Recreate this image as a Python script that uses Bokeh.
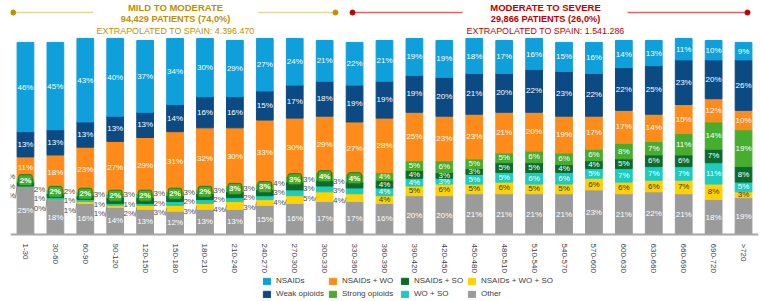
from bokeh.plotting import figure
from bokeh.models import ColumnDataSource, FactorRange, Range1d, Legend, LegendItem
from bokeh.embed import file_html
from bokeh.resources import INLINE
from bokeh.core.properties import value

# ---------------- data ----------------
categories = ["1-30", "30-60", "60-90", "90-120", "120-150", "150-180", "180-210",
              "210-240", "240-270", "270-300", "300-330", "330-360", "360-390",
              "390-420", "420-450", "450-480", "480-510", "510-540", "540-570",
              "570-600", "600-630", "630-660", "660-690", "690-720", ">720"]

nsaids         = [46, 45, 43, 40, 37, 34, 30, 29, 27, 24, 21, 22, 21, 19, 19, 18, 17, 16, 15, 16, 14, 13, 11, 10, 9]
weak_opioids   = [13, 13, 13, 13, 13, 14, 16, 16, 15, 17, 18, 19, 19, 19, 20, 21, 20, 22, 23, 22, 22, 25, 23, 20, 26]
nsaids_wo      = [11, 18, 23, 27, 29, 31, 32, 30, 33, 30, 29, 27, 28, 25, 23, 23, 21, 20, 19, 17, 17, 14, 15, 12, 10]
strong_opioids = [2, 2, 2, 2, 2, 2, 2, 3, 3, 3, 4, 4, 4, 5, 6, 5, 5, 6, 6, 6, 8, 7, 11, 14, 19]
nsaids_so      = [2, 2, 2, 3, 3, 3, 3, 3, 3, 4, 3, 3, 4, 4, 3, 3, 5, 5, 4, 4, 5, 6, 6, 7, 8]
wo_so          = [0, 1, 1, 1, 1, 2, 2, 2, 2, 3, 3, 3, 4, 4, 3, 5, 5, 6, 6, 5, 7, 7, 7, 11, 5]
nsaids_wo_so   = [0, 0, 1, 1, 2, 3, 3, 4, 3, 4, 5, 4, 4, 5, 6, 5, 6, 5, 5, 6, 6, 6, 7, 8, 3]
other          = [25, 18, 16, 14, 13, 12, 13, 13, 15, 16, 17, 17, 16, 20, 20, 21, 21, 21, 21, 23, 21, 22, 21, 18, 19]

mild_title = "MILD TO MODERATE"
mild_patients = "94,429 PATIENTS (74,0%)"
mild_extra = "EXTRAPOLATED TO SPAIN: 4.396.470"
sev_title = "MODERATE TO SEVERE"
sev_patients = "29,866 PATIENTS (26,0%)"
sev_extra = "EXTRAPOLATED TO SPAIN: 1.541.286"

# ---------------- styling / layout ----------------
FONT = value("Liberation Sans")
W, H = 760, 301
LEFT, RIGHT = 10, 2
PXU = 1.94            # pixels per percentage unit
BASE_Y = 234          # page y of the baseline
SP = (W - LEFT - RIGHT) / len(categories)
GOLD = "#BF9000"
GOLD_LINE = "#E4D69C"
RED = "#C00000"
RED_LINE = "#E06666"

colors = {
    "NSAIDs": "#0FA0DC",
    "Weak opioids": "#0B4A82",
    "NSAIDs + WO": "#FF8C1A",
    "Strong opioids": "#47AD2F",
    "NSAIDs + SO": "#0C6B2A",
    "WO + SO": "#1ECBBE",
    "NSAIDs + WO + SO": "#FFD200",
    "Other": "#9B9B9B",
}

def yd(page_y):
    return (BASE_Y - page_y) / PXU

def sx(page_x):
    return (page_x - LEFT) / SP

p = figure(x_range=FactorRange(factors=categories),
           y_range=Range1d(yd(H), yd(0)),
           width=W, height=H, output_backend="svg", toolbar_location=None,
           min_border=0, min_border_left=LEFT, min_border_right=RIGHT,
           y_axis_location=None, outline_line_color=None)
p.xgrid.visible = False
p.ygrid.visible = False

data = {
    "cat": categories,
    "NSAIDs": nsaids,
    "Weak opioids": weak_opioids,
    "NSAIDs + WO": nsaids_wo,
    "Strong opioids": strong_opioids,
    "NSAIDs + SO": nsaids_so,
    "WO + SO": wo_so,
    "NSAIDs + WO + SO": nsaids_wo_so,
    "Other": other,
}
source = ColumnDataSource(data)

stack_order = ["Other", "NSAIDs + WO + SO", "WO + SO", "NSAIDs + SO",
               "Strong opioids", "NSAIDs + WO", "Weak opioids", "NSAIDs"]
BAR_W = 0.56
rends = p.vbar_stack(stack_order, x="cat", width=BAR_W, source=source,
                     color=[colors[s] for s in stack_order])
rmap = dict(zip(stack_order, rends))

# ---------------- value labels ----------------
in_x, in_y, in_t, in_c = [], [], [], []
out_x, out_y, out_t = [], [], []
box_x, box_y, box_t = [], [], []
ld_x0, ld_y0, ld_x1, ld_y1 = [], [], [], []
D = 9.5 / PXU
small = {"NSAIDs + WO + SO", "WO + SO", "NSAIDs + SO"}
for i, cat in enumerate(categories):
    bottom = 0
    centers = {}
    for s in stack_order:
        v = data[s][i]
        centers[s] = bottom + v / 2
        bottom += v
    outside = i < 12
    for s in stack_order:
        v = data[s][i]
        if outside and s in small:
            continue
        if outside and s == "Strong opioids":
            box_x.append(cat); box_y.append(centers[s]); box_t.append(f"{v}%")
            continue
        in_x.append(cat); in_y.append(centers[s]); in_t.append(f"{v}%")
        in_c.append("#333333" if s == "NSAIDs + WO + SO" else "white")
    if outside:
        mid = centers["WO + SO"]
        for s, yy in (("NSAIDs + SO", mid + D), ("WO + SO", mid), ("NSAIDs + WO + SO", mid - D)):
            out_x.append(cat); out_y.append(yy); out_t.append(f"{data[s][i]}%")
        ld_x0.append(i + 0.5 - 10 / SP); ld_y0.append(mid - D - 3 / PXU)
        ld_x1.append(i + 0.5 - BAR_W / 2); ld_y1.append(centers["NSAIDs + WO + SO"])

p.text(x=in_x, y=in_y, text=in_t, text_color=in_c, text_font=FONT,
       text_font_size="8px", text_align="center", text_baseline="middle")
p.segment(x0=ld_x0, y0=ld_y0, x1=ld_x1, y1=ld_y1, line_color="#7F7F7F", line_width=0.8)
p.text(x=out_x, y=out_y, text=out_t, text_color="#505050", text_font=FONT,
       text_font_size="8px", text_align="right", text_baseline="middle", x_offset=-10)
p.text(x=box_x, y=box_y, text=box_t, text_color="white", text_font=FONT,
       text_font_style="bold", text_font_size="8px", text_align="center",
       text_baseline="middle", background_fill_color="#47AD2F",
       border_line_color="#1F7A22", border_line_width=1, padding=1, border_radius=2)

# ---------------- header ----------------
def header(xc, xl0, xl1, xr0, xr1, title, pats, extra, col, lcol):
    yl = yd(12)
    p.line(x=[sx(xl0), sx(xl1)], y=[yl, yl], line_color=lcol, line_width=1.5)
    p.line(x=[sx(xr0), sx(xr1)], y=[yl, yl], line_color=lcol, line_width=1.5)
    p.scatter(x=[sx(xl0), sx(xr1)], y=[yl, yl], size=5, color=col)
    p.text(x=[sx(xc)], y=[yd(6.5)], text=[title], text_color=col, text_font=FONT,
           text_font_style="bold", text_font_size="9.5px", text_align="center", text_baseline="middle")
    p.text(x=[sx(xc)], y=[yd(18.5)], text=[pats], text_color=col, text_font=FONT,
           text_font_style="bold", text_font_size="9.2px", text_align="center", text_baseline="middle")
    p.text(x=[sx(xc)], y=[yd(30.5)], text=[extra], text_color=col, text_font=FONT,
           text_font_size="8.9px", text_align="center", text_baseline="middle")

header(175, 12.7, 92.7, 258, 335, mild_title, mild_patients, mild_extra, GOLD, GOLD_LINE)
header(545, 352, 462, 627, 747, sev_title, sev_patients, sev_extra, RED, RED_LINE)

# ---------------- axis ----------------
ax = p.xaxis[0]
ax.fixed_location = 0
ax.axis_line_color = "#A6A6A6"
ax.axis_line_width = 2
ax.major_tick_line_color = None
ax.minor_tick_line_color = None
ax.major_label_orientation = "vertical"
ax.major_label_text_font = "Liberation Sans"
ax.major_label_text_font_size = "8px"
ax.major_label_text_color = "#404040"
ax.major_label_standoff = 3

# ---------------- legend (four columns of two rows) ----------------
legend_cols = [("NSAIDs", "Weak opioids"), ("NSAIDs + WO", "Strong opioids"),
               ("NSAIDs + SO", "WO + SO"), ("NSAIDs + WO + SO", "Other")]
legend_x = [262, 328, 400, 467]
for names, lx in zip(legend_cols, legend_x):
    lg = Legend(items=[LegendItem(label=n, renderers=[rmap[n]]) for n in names],
                location=(lx - LEFT, 3), orientation="vertical",
                glyph_width=9, glyph_height=8, label_height=8, label_standoff=5,
                spacing=4, padding=0, margin=0, border_line_color=None,
                background_fill_alpha=0, label_text_font="Liberation Sans",
                label_text_font_size="8px", label_text_color="#404040")
    p.add_layout(lg)

open("out.html", "w").write(file_html(p, INLINE))
